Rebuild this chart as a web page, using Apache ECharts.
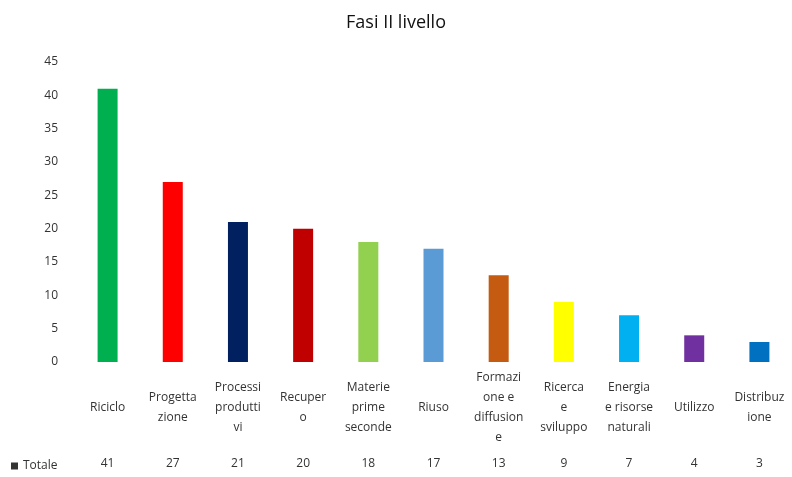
<!DOCTYPE html>
<html><head><meta charset="utf-8">
<script src="https://cdn.jsdelivr.net/npm/echarts@6/dist/echarts.min.js"></script>
<style>html,body{margin:0;padding:0;background:#fff}#c{width:792px;height:477px}</style>
</head><body><div id="c"></div>
<script>
const categories = ["Riciclo","Progettazione","Processi produttivi","Recupero","Materie prime seconde","Riuso","Formazione e diffusione","Ricerca e sviluppo","Energia e risorse naturali","Utilizzo","Distribuzione"];
const categoryLabels = ["Riciclo","Progetta\nzione","Processi\nprodutti\nvi","Recuper\no","Materie\nprime\nseconde","Riuso","Formazi\none e\ndiffusion\ne","Ricerca\ne\nsviluppo","Energia\ne risorse\nnaturali","Utilizzo","Distribuz\nione"];
const totale = [41,27,21,20,18,17,13,9,7,4,3];
const barColors = ["#00B050","#FF0000","#002060","#C00000","#92D050","#5B9BD5","#C55A11","#FFFF00","#00B0F0","#7030A0","#0070C0"];
const yTicks = [0,5,10,15,20,25,30,35,40,45];
const seriesName = "Totale";

const font = "'Open Sans', 'Noto Sans', sans-serif";
const chart = echarts.init(document.getElementById('c'));
chart.setOption({
  animation:false,
  title:{text:"Fasi II livello",left:'center',top:9,textStyle:{fontFamily:font,fontSize:18,fontWeight:'normal',color:'#111'}},
  legend:{data:[seriesName],left:6,top:455,icon:'rect',itemWidth:7,itemHeight:7,itemGap:4,
    textStyle:{fontFamily:font,fontSize:12,color:'#333'},itemStyle:{color:'#333'}},
  grid:{left:75,right:0,top:62,bottom:115},
  xAxis:[{type:'category',data:categories,axisLine:{show:false},axisTick:{show:false},
    axisLabel:{interval:0,margin:46,verticalAlign:'middle',lineHeight:20,fontFamily:font,fontSize:12,color:'#333',
      formatter:(v,i)=>categoryLabels[i]}},
   {type:'category',position:'bottom',offset:94,data:totale.map(String),axisLine:{show:false},axisTick:{show:false},
    axisLabel:{interval:0,margin:8,verticalAlign:'middle',fontFamily:font,fontSize:12,color:'#333'}}],
  yAxis:{type:'value',min:yTicks[0],max:yTicks[yTicks.length-1],interval:5,
    axisLine:{show:false},axisTick:{show:false},splitLine:{show:false},
    axisLabel:{margin:17,fontFamily:font,fontSize:12,color:'#333'}},
  series:[{name:seriesName,type:'bar',barWidth:20,data:totale.map((v,i)=>({value:v,itemStyle:{color:barColors[i]}})),
    itemStyle:{color:'#333'}}]
});
</script></body></html>
